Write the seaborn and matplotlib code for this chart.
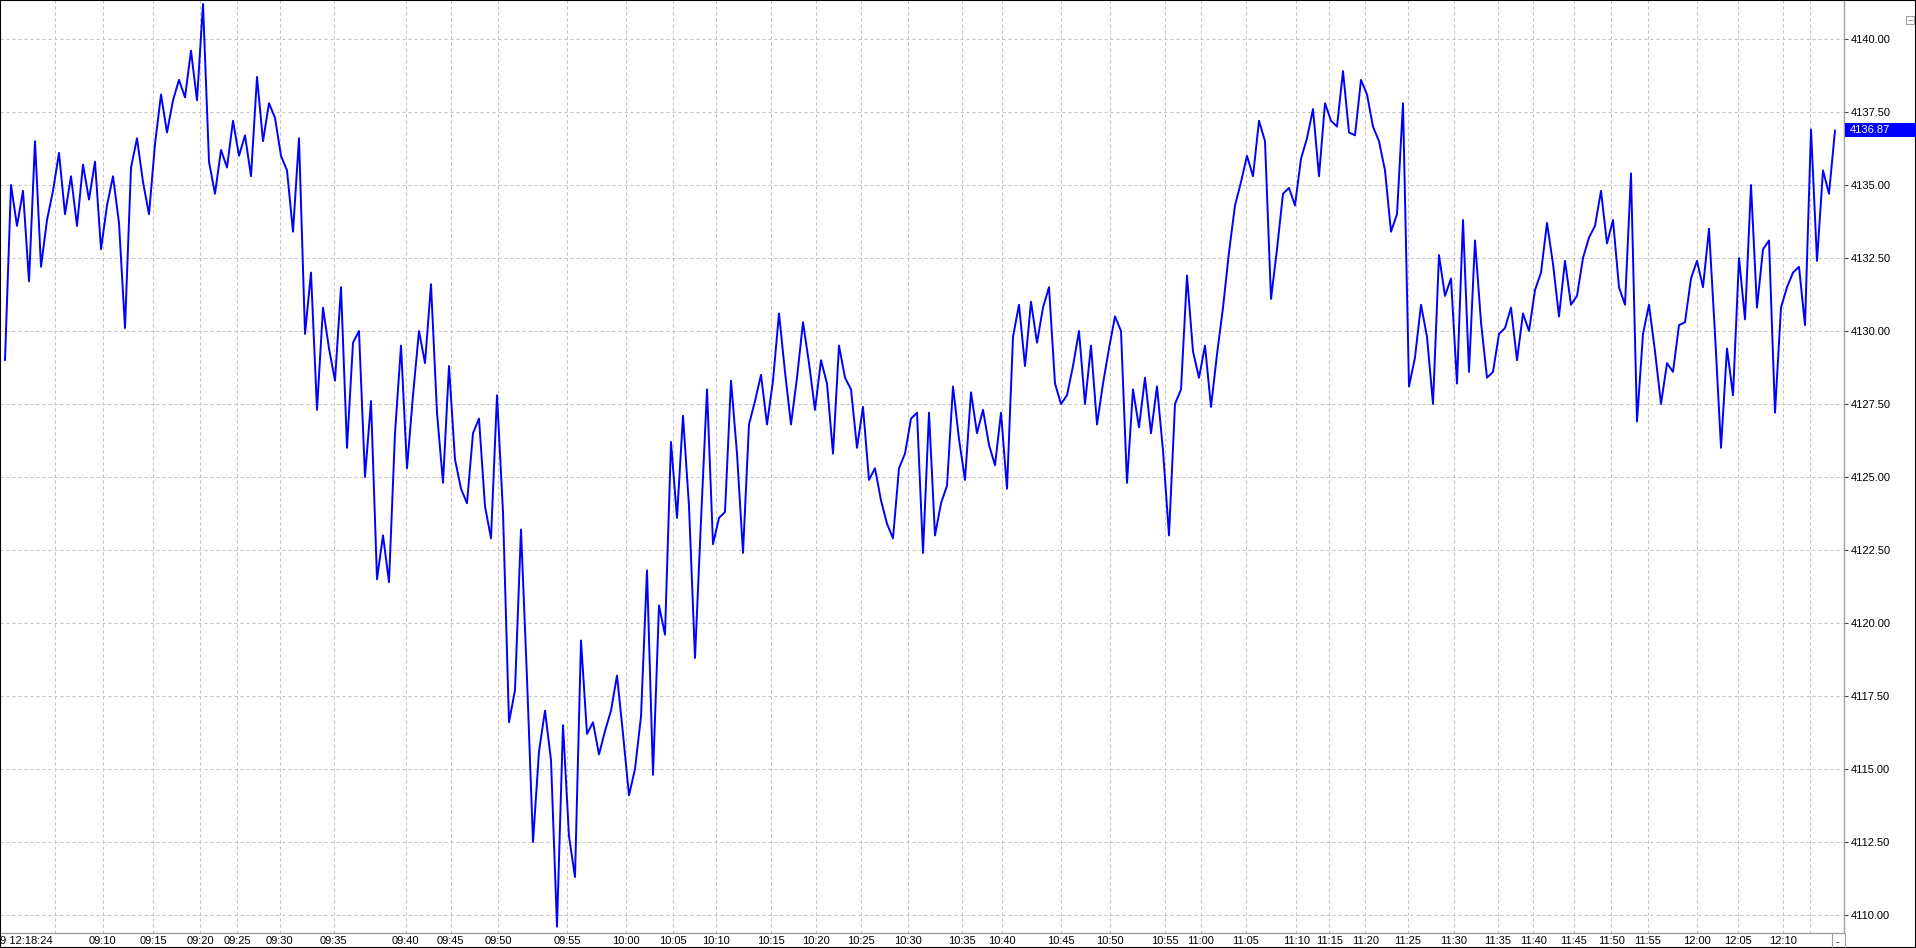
import numpy as np
import pandas as pd
import matplotlib
matplotlib.use("Agg")
import matplotlib.pyplot as plt
import seaborn as sns
from matplotlib.patches import Rectangle
from matplotlib.lines import Line2D

# -----------------------------
# Data (tick prices, one value per sample)
# -----------------------------
ticks = [
    4129.0, 4135.0, 4133.6, 4134.8, 4131.7, 4136.5, 4132.2, 4133.8, 4134.8, 4136.1,
    4134.0, 4135.3, 4133.6, 4135.7, 4134.5, 4135.8, 4132.8, 4134.3, 4135.3, 4133.7,
    4130.1, 4135.6, 4136.6, 4135.1, 4134.0, 4136.4, 4138.1, 4136.8, 4137.9, 4138.6,
    4138.0, 4139.6, 4137.9, 4141.2, 4135.8, 4134.7, 4136.2, 4135.6, 4137.2, 4136.0,
    4136.7, 4135.3, 4138.7, 4136.5, 4137.8, 4137.3, 4136.0, 4135.5, 4133.4, 4136.6,
    4129.9, 4132.0, 4127.3, 4130.8, 4129.4, 4128.3, 4131.5, 4126.0, 4129.6, 4130.0,
    4125.0, 4127.6, 4121.5, 4123.0, 4121.4, 4126.5, 4129.5, 4125.3, 4127.8, 4130.0,
    4128.9, 4131.6, 4127.2, 4124.8, 4128.8, 4125.6, 4124.6, 4124.1, 4126.5, 4127.0,
    4124.0, 4122.9, 4127.8, 4123.8, 4116.6, 4117.7, 4123.2, 4118.1, 4112.5, 4115.6,
    4117.0, 4115.3, 4109.6, 4116.5, 4112.7, 4111.3, 4119.4, 4116.2, 4116.6, 4115.5,
    4116.3, 4117.0, 4118.2, 4116.2, 4114.1, 4115.0, 4116.8, 4121.8, 4114.8, 4120.6,
    4119.6, 4126.2, 4123.6, 4127.1, 4124.0, 4118.8, 4123.5, 4128.0, 4122.7, 4123.6,
    4123.8, 4128.3, 4125.8, 4122.4, 4126.8, 4127.6, 4128.5, 4126.8, 4128.3, 4130.6,
    4128.6, 4126.8, 4128.4, 4130.3, 4128.9, 4127.3, 4129.0, 4128.2, 4125.8, 4129.5,
    4128.4, 4128.0, 4126.0, 4127.4, 4124.9, 4125.3, 4124.2, 4123.4, 4122.9, 4125.3,
    4125.8, 4127.0, 4127.2, 4122.4, 4127.2, 4123.0, 4124.1, 4124.7, 4128.1, 4126.3,
    4124.9, 4127.9, 4126.5, 4127.3, 4126.1, 4125.4, 4127.2, 4124.6, 4129.8, 4130.9,
    4128.8, 4131.0, 4129.6, 4130.8, 4131.5, 4128.2, 4127.5, 4127.8, 4128.8, 4130.0,
    4127.5, 4129.5, 4126.8, 4128.2, 4129.4, 4130.5, 4130.0, 4124.8, 4128.0, 4126.7,
    4128.4, 4126.5, 4128.1, 4125.9, 4123.0, 4127.5, 4128.0, 4131.9, 4129.3, 4128.4,
    4129.5, 4127.4, 4129.2, 4130.8, 4132.7, 4134.3, 4135.1, 4136.0, 4135.3, 4137.2,
    4136.5, 4131.1, 4132.8, 4134.7, 4134.9, 4134.3, 4135.9, 4136.6, 4137.6, 4135.3,
    4137.8, 4137.2, 4137.0, 4138.9, 4136.8, 4136.7, 4138.6, 4138.1, 4137.0, 4136.5,
    4135.5, 4133.4, 4134.0, 4137.8, 4128.1, 4129.1, 4130.9, 4129.8, 4127.5, 4132.6,
    4131.2, 4131.8, 4128.2, 4133.8, 4128.6, 4133.1, 4130.3, 4128.4, 4128.6, 4129.9,
    4130.1, 4130.8, 4129.0, 4130.6, 4130.0, 4131.4, 4132.0, 4133.7, 4132.3, 4130.5,
    4132.4, 4130.9, 4131.2, 4132.5, 4133.2, 4133.6, 4134.8, 4133.0, 4133.8, 4131.5,
    4130.9, 4135.4, 4126.9, 4129.9, 4130.9, 4129.3, 4127.5, 4128.9, 4128.6, 4130.2,
    4130.3, 4131.8, 4132.4, 4131.5, 4133.5, 4129.9, 4126.0, 4129.4, 4127.8, 4132.5,
    4130.4, 4135.0, 4130.8, 4132.8, 4133.1, 4127.2, 4130.8, 4131.5, 4132.0, 4132.2,
    4130.2, 4136.9, 4132.4, 4135.5, 4134.7, 4136.87,
]
last_price = 4136.87

# time labels and the tick index where each one sits ("" = grid line only)
time_labels = ["", "09:10", "09:15", "09:20", "09:25", "09:30", "09:35", "09:40",
               "09:45", "09:50", "09:55", "10:00", "10:05", "10:10", "10:15",
               "10:20", "10:25", "10:30", "10:35", "10:40", "10:45", "10:50",
               "10:55", "11:00", "11:05", "11:10", "11:15", "11:20", "11:25",
               "11:30", "11:35", "11:40", "11:45", "11:50", "11:55", "12:00",
               "12:05", "12:10", ""]
time_idx = [8.3, 16.3, 24.7, 32.5, 38.7, 45.8, 54.8, 66.8, 74.3, 82.2, 93.7,
            103.5, 111.3, 118.5, 127.7, 135.2, 142.7, 150.5, 159.5, 166.2, 176.0,
            184.2, 193.3, 199.3, 206.8, 215.2, 220.7, 226.7, 233.8, 241.5, 248.8,
            254.7, 261.5, 267.7, 273.8, 282.0, 288.8, 296.3, 300.8]
price_ticks = [4110.0 + 2.5 * i for i in range(13)]
first_label = "9 12:18:24"

# -----------------------------
# Style
# -----------------------------
sns.set_theme(style="white")
plt.rcParams["font.family"] = ["Liberation Sans", "DejaVu Sans"]
plt.rcParams["lines.scale_dashes"] = True

W, H = 1916, 948
fig = plt.figure(figsize=(W / 100, H / 100), dpi=100)
fig.patch.set_facecolor("white")
ax = fig.add_axes([0, 15 / H, 1844 / W, 933 / H])
ax.set_facecolor("white")

df = pd.DataFrame({"tick": np.arange(len(ticks)), "price": ticks})
sns.lineplot(data=df, x="tick", y="price", ax=ax, color="#0000FF",
             linewidth=1.4, estimator=None, legend=False)

ax.set_xlim(-5 / 6, (1844 - 5) / 6)
ax.set_ylim(4140 - 894 / 29.2, 4140 + 39 / 29.2)
ax.set_xlabel("")
ax.set_ylabel("")

# grid
grid_kw = dict(color="#C0C0C0", linewidth=0.72, linestyle=(0, (3, 3)))
ax.set_yticks(price_ticks)
ax.set_yticklabels([f"{v:.2f}" for v in price_ticks])
ax.set_xticks(time_idx)
ax.set_xticklabels(time_labels)
ax.grid(True, axis="both", **grid_kw)
ax.set_axisbelow(True)

# spines
for s in ["top", "left"]:
    ax.spines[s].set_visible(False)
for s in ["bottom", "right"]:
    ax.spines[s].set_color("#A0A0A0")
    ax.spines[s].set_linewidth(1.0)

# right price axis
ax.yaxis.tick_right()
ax.tick_params(axis="y", which="major", direction="out", length=3,
               width=0.8, color="#404040", labelsize=8, pad=2,
               labelcolor="black")
# bottom time axis
ax.tick_params(axis="x", which="major", direction="out", length=10.8,
               width=0.8, color="#505050", labelsize=8, pad=-8.4,
               labelcolor="black")

# first (partial) time label on the left
fig.text(0.5 / W, 1 - 941 / H, first_label, fontsize=8, va="center",
         ha="left", color="black")

# current price box
fig.canvas.draw()
y_disp = ax.transData.transform((0, last_price))[1]
fig.add_artist(Rectangle((1845 / W, (y_disp - 7) / H), 71 / W, 14 / H,
                         transform=fig.transFigure, facecolor="#0000FF",
                         edgecolor="none", zorder=5))
fig.text(1850 / W, y_disp / H, f"{last_price:.2f}", color="white",
         fontsize=8, va="center", ha="left", zorder=6)
fig.add_artist(Line2D([1845 / W, 1849 / W], [y_disp / H, y_disp / H],
                      transform=fig.transFigure, color="#0000FF", lw=1))

# small widgets around the frame
fig.add_artist(Rectangle((1906 / W, 1 - 24 / H), 8 / W, 8 / H,
                         transform=fig.transFigure, facecolor="white",
                         edgecolor="#A0A0A0", lw=0.8))
fig.add_artist(Line2D([1908 / W, 1912 / W], [1 - 20 / H, 1 - 20 / H],
                      transform=fig.transFigure, color="#A0A0A0", lw=0.8))
fig.add_artist(Line2D([1832 / W, 1832 / W], [0, 15 / H],
                      transform=fig.transFigure, color="#A0A0A0", lw=0.8))
fig.add_artist(Line2D([1844.5 / W, 1844.5 / W], [0, 15 / H],
                      transform=fig.transFigure, color="#A0A0A0", lw=0.8))
fig.text(1837 / W, 1 - 942 / H, "-", fontsize=8, ha="center", va="center")

# outer frame
fig.add_artist(Rectangle((0, 0), 1, 1, transform=fig.transFigure,
                         fill=False, edgecolor="black", lw=1.5))

fig.savefig("out.png", dpi=100)
plt.close(fig)
